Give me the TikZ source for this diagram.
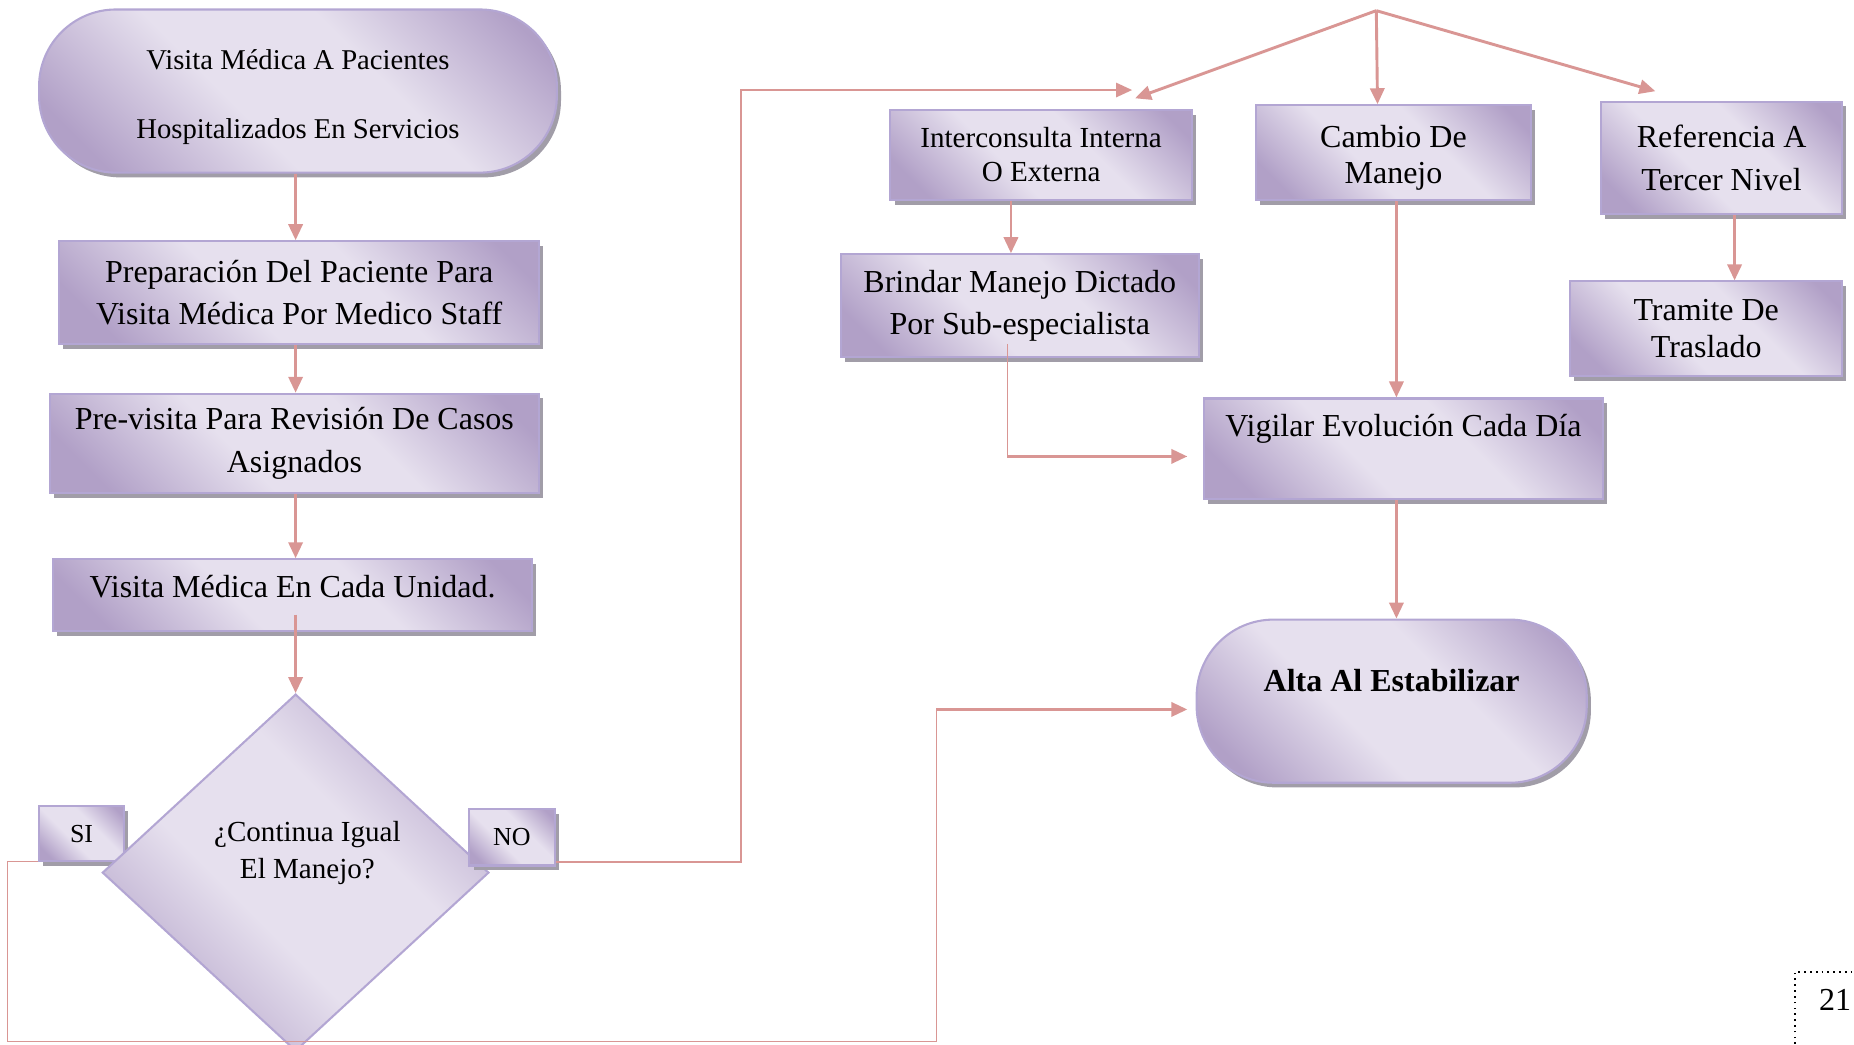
\documentclass[tikz,border=0pt]{standalone}
\usepackage{fontspec}
\setmainfont{Liberation Serif}
\usetikzlibrary{arrows.meta,positioning,shapes.geometric,shadows}
\definecolor{lilacDark}{HTML}{B1A0C7}
\definecolor{lilacLight}{HTML}{E6E0EE}
\definecolor{lilacLine}{HTML}{B3A6D3}
\definecolor{shadowGray}{HTML}{A19DA8}
\definecolor{roseLine}{HTML}{D99694}
\pgfdeclarehorizontalshading{lilac}{100bp}{color(0bp)=(lilacDark); color(22bp)=(lilacDark); color(42bp)=(lilacLight); color(60bp)=(lilacLight); color(80bp)=(lilacDark); color(100bp)=(lilacDark)}

\begin{document}
\begin{tikzpicture}[
        x=0.02cm, y=-0.02cm,
        box/.style={rectangle, draw=lilacLine, line width=1pt, shading=lilac, shading angle=45, drop shadow={fill=shadowGray, opacity=1, shadow xshift=0.07cm, shadow yshift=-0.08cm}, inner sep=0pt, align=center, font=\fontsize{15.4}{20.5}\selectfont},
        terminal/.style={box, rounded corners=1.3cm, font=\fontsize{13.8}{33}\selectfont},
        decision/.style={diamond, draw=lilacLine, line width=1pt, shading=lilac, shading angle=45, inner sep=0pt, align=center, minimum width=6.54cm, minimum height=6.04cm, font=\fontsize{14}{17.6}\selectfont},
        answer/.style={box, minimum width=1.44cm, minimum height=0.92cm, font=\fontsize{12.5}{15}\selectfont},
        arrow/.style={-{Triangle[length=0.27cm,width=0.24cm]}, line width=1.4pt, draw=roseLine},
        wire/.style={line width=0.6pt, draw=roseLine}
      ]
        \useasboundingbox (0,0) rectangle (1568,883);
        \clip (0,0) rectangle (1568,883);
        \node[terminal, minimum width=8.76cm, minimum height=2.76cm, text height=1.65cm, text depth=0.05cm] (a) at (252,77) {Visita Médica A Pacientes\\Hospitalizados En Servicios};
        \node[box, minimum width=8.12cm, minimum height=1.74cm] (b) at (253,247.5) {Preparación Del Paciente Para\\Visita Médica Por Medico Staff};
        \node[box, minimum width=8.28cm, minimum height=1.68cm] (c) at (249,375) {Pre-visita Para Revisión De Casos\\Asignados};
        \node[box, minimum width=8.1cm, text height=0.64cm, text depth=0.58cm] (d) at (247.5,503.5) {Visita Médica En Cada Unidad.};
        \node[answer] (f) at (69,705) {SI};
        \node[decision, text height=0.62cm, text depth=0.42cm] (e) at (250,738) {\hspace*{0.4cm}¿Continua Igual\\\hspace*{0.4cm}El Manejo?};
        \node[answer, minimum height=0.96cm] (g) at (433,708) {NO};
        \node[box, minimum width=5.1cm, minimum height=1.52cm, font=\fontsize{14}{16.5}\selectfont] (h) at (880.5,131) {Interconsulta Interna\\O Externa};
        \node[box, minimum width=4.66cm, minimum height=1.6cm, text height=1.09cm, text depth=0.05cm, font=\fontsize{15.4}{17}\selectfont] (i) at (1178.5,129) {Cambio De\\Manejo};
        \node[box, minimum width=4.08cm, minimum height=1.9cm] (j) at (1456,133.5) {Referencia A\\Tercer Nivel};
        \node[box, minimum width=6.06cm, minimum height=1.74cm] (k) at (862.5,258.5) {Brindar Manejo Dictado\\Por Sub-especialista};
        \node[box, minimum width=4.6cm, minimum height=1.6cm, font=\fontsize{15.4}{17.6}\selectfont] (l) at (1443,278) {Tramite De\\Traslado};
        \node[box, minimum width=6.76cm, text height=0.64cm, text depth=1.06cm] (m) at (1187,379.5) {Vigilar Evolución Cada Día};
        \node[terminal, minimum width=6.6cm, text height=1.22cm, text depth=1.54cm, font=\bfseries\fontsize{15.4}{18}\selectfont] (n) at (1177,593) {Alta Al Estabilizar};
        \node[font=\fontsize{15.4}{18}\selectfont] (p) at (1552,846) {21};
        \coordinate (fork) at (1164,9);
        \coordinate (loop) at (792,881);
        \coordinate (kIn) at ([xshift=-0.26cm,yshift=-0.13cm]m.west);
        \coordinate (nIn) at ([xshift=-0.14cm,yshift=-0.14cm]n.west);
        \draw[arrow] (a.south -| e.north) -- (b.north -| e.north);
        \draw[arrow] (b.south -| e.north) -- (c.north -| e.north);
        \draw[arrow] (c.south -| e.north) -- (d.north -| e.north);
        \draw[arrow] ([yshift=0.3cm]d.south -| e.north) -- (e.north);
        \draw[arrow, line width=1pt] ([yshift=0.08cm]g.south east) -- ++(157,0) |- ([xshift=1.54cm,yshift=0.32cm]h.north);
        \draw[arrow] (fork) -- ([xshift=1.59cm,yshift=0.18cm]h.north);
        \draw[arrow] (fork) -- ([xshift=-0.27cm]i.north);
        \draw[arrow] (fork) -- ([xshift=-1.12cm,yshift=0.16cm]j.north);
        \draw[arrow] ([xshift=-0.51cm]h.south) -- ([xshift=-0.51cm]h.south |- k.north);
        \draw[arrow] ([xshift=0.05cm]i.south) -- ([xshift=0.05cm]i.south |- m.north);
        \draw[arrow] ([xshift=0.22cm]j.south) -- ([xshift=0.22cm]j.south |- l.north);
        \draw[wire] ([xshift=-0.21cm,yshift=0.24cm]k.south) |- (kIn);
        \draw[arrow] ([xshift=-0.21cm]k.south |- kIn) -- (kIn);
        \draw[arrow] ([xshift=-0.12cm]m.south) -- ([xshift=-0.12cm]m.south |- n.north);
        \draw[wire] (f.south west) -- ++(-26,0) |- (loop) -- (loop |- nIn);
        \draw[arrow] (loop |- nIn) -- (nIn);
        \draw[dotted, line width=0.8pt] (1518,883) |- (1568,822);
      \end{tikzpicture}
\end{document}
